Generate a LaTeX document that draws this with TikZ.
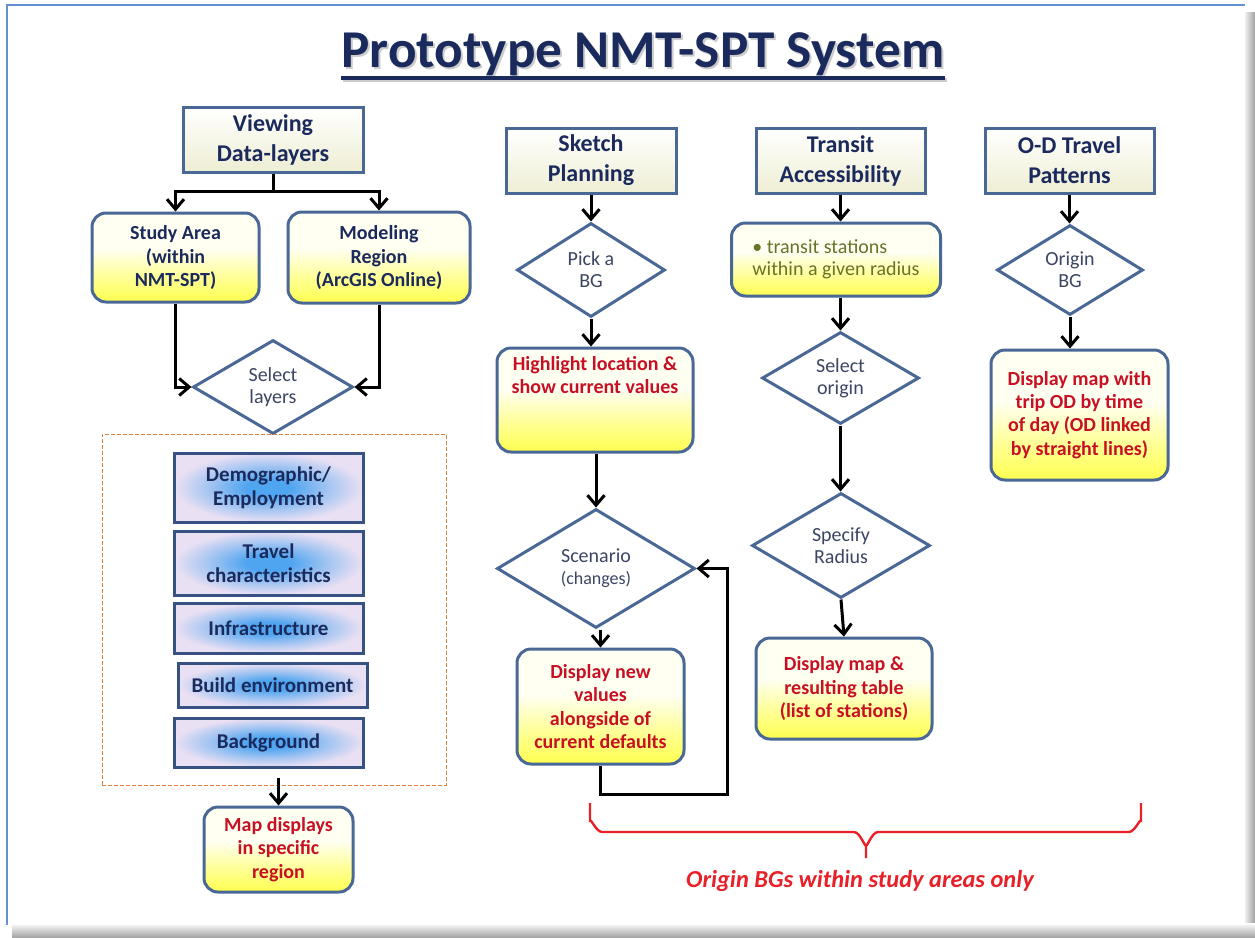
\documentclass[tikz,border=0pt]{standalone}
\usepackage{fontspec}
\setmainfont{Carlito}
\usetikzlibrary{arrows.meta,shapes.geometric,calc}
\definecolor{navy}{RGB}{27,42,92}
\definecolor{bord}{RGB}{74,104,150}
\definecolor{ldark}{RGB}{55,82,130}
\definecolor{redt}{RGB}{200,16,36}
\definecolor{olive}{RGB}{105,115,40}
\definecolor{dtext}{RGB}{60,70,100}
\definecolor{cream}{RGB}{238,238,212}
\definecolor{yelB}{RGB}{255,255,80}
\definecolor{yelW}{RGB}{255,255,242}
\definecolor{lblue}{RGB}{80,165,240}
\definecolor{lav}{RGB}{234,224,243}
\definecolor{frameblue}{RGB}{100,145,210}
\definecolor{bracered}{RGB}{232,32,40}
\pgfdeclareverticalshading{yelshade}{100bp}{color(0bp)=(yelB); color(25bp)=(yelB); color(38bp)=(yelB!60!yelW); color(55bp)=(yelW); color(75bp)=(yelW); color(100bp)=(yelW)}
\pgfdeclareradialshading{blueshade}{\pgfpoint{0bp}{0bp}}{color(0bp)=(lblue); color(6bp)=(lblue); color(16bp)=(lblue!45!lav); color(25bp)=(lav); color(50bp)=(lav)}
\tikzset{
  hdr/.style={draw=bord, line width=1.5pt, top color=white, bottom color=cream,
    font=\fontsize{12}{15}\selectfont\bfseries, text=navy, align=center,
    inner sep=0pt, minimum height=32.5pt},
  ybox/.style={draw=bord, line width=1.5pt, rounded corners=7pt, shading=yelshade,
    align=center, inner sep=0pt, font=\fontsize{10}{11.6}\selectfont\bfseries},
  layer/.style={draw=ldark, line width=1.5pt, shading=blueshade, align=center,
    inner sep=0pt, text=navy, font=\fontsize{10.5}{12}\selectfont\bfseries,
    minimum width=94.5pt},
  dec/.style={diamond, draw=bord, line width=1.5pt, fill=white, inner sep=0pt,
    font=\fontsize{10}{11}\selectfont, text=dtext, align=center},
  ln/.style={line width=1.5pt},
  arr/.style={line width=1.5pt, -{Straight Barb[length=5pt,width=8.5pt]}}
}
\begin{document}
\begin{tikzpicture}[x=0.5pt,y=-0.5pt]
\useasboundingbox (0,0) rectangle (1255,938);
% slide frame and shadow
\shade[left color=white, right color=gray!75] (1243,12) rectangle (1255,938);
\shade[top color=white, bottom color=gray!75] (12,923) rectangle (1255,938);
\fill[white] (7,5) rectangle (1245,925);
\draw[frameblue, line width=1pt] (7,925) -- (7,5) -- (1245,5);
% title
\node[anchor=base, inner sep=0pt, text=gray!40, font=\fontsize{26.6}{30}\selectfont\bfseries] (tshadow) at (645,69) {Prototype NMT-SPT System};
\node[anchor=base, inner sep=0pt, text=navy, font=\fontsize{26.6}{30}\selectfont\bfseries] (title) at (643,67) {Prototype NMT-SPT System};
\draw[gray!40, line width=2pt] ([yshift=-6.5pt,xshift=1pt]title.base west) -- ([yshift=-6.5pt,xshift=1pt]title.base east);
\draw[navy, line width=2pt] ([yshift=-5.5pt]title.base west) -- ([yshift=-5.5pt]title.base east);

% ---- left column
\node[hdr, minimum width=90pt] (view) at (273,139.5) {Viewing\\Data-layers};
\node[ybox, minimum width=83.5pt, minimum height=44.5pt, text=navy] (study) at (175.5,257.5) {Study Area\\(within\\NMT-SPT)};
\node[ybox, minimum width=91pt, minimum height=45.5pt, text=navy] (model) at (379,257.5) {Modeling\\Region\\(ArcGIS Online)};
\node[dec, minimum width=80pt, minimum height=47pt] (sel) at (273,387) {Select\\layers};
\node[draw={rgb,255:red,220;green,130;blue,60}, dash pattern=on 2pt off 1pt, line width=0.5pt, minimum width=172pt, minimum height=175.5pt, inner sep=0pt] (grp) at (274,609.5) {};
\node[layer, minimum height=34.5pt] (demo) at (268.5,487.5) {Demographic/\\Employment};
\node[layer, minimum height=32pt] (trav) at (268.5,563) {Travel\\characteristics};
\node[layer, minimum height=25pt] (infra) at (268.5,628) {Infrastructure};
\node[layer, minimum height=22pt] (build) at (272.5,685) {Build environment};
\node[layer, minimum height=24.5pt] (bgr) at (268.5,742.5) {Background};
\node[ybox, minimum width=74.5pt, minimum height=42.5pt, text=redt] (mapd) at (278.5,849.5) {Map displays\\in specific\\region};

\draw[ln] (view.south) -- ++(0,18) coordinate (vj);
\draw[arr] (vj) -| (study.north);
\draw[arr] (vj) -| (model.north);
\draw[arr] (study.south) |- (sel.west);
\draw[arr] (model.south) |- (sel.east);
\draw[arr] ([yshift=4pt]grp.south -| mapd.north) -- (mapd.north);

% ---- sketch planning column
\node[hdr, minimum width=85pt] (sketch) at (591,160.5) {Sketch\\Planning};
\node[dec, minimum width=74pt, minimum height=47pt] (pick) at (591,270) {Pick a\\BG};
\node[ybox, minimum width=98pt, minimum height=52pt, text=redt] (high) at (595,400) {\parbox[c][44pt][t]{96pt}{\centering Highlight location \&\\show current values}};
\node[dec, minimum width=99pt, minimum height=59.5pt] (scen) at (596,568.5) {Scenario\\{\fontsize{9}{11}\selectfont(changes)}};
\node[ybox, minimum width=83.5pt, minimum height=57.5pt, text=redt] (dnew) at (600.5,706.5) {Display new\\values\\alongside of\\current defaults};
\coordinate (loopc) at (727,794);

\draw[arr] (sketch.south) -- (pick.north);
\draw[arr] (pick.south) -- (pick.south |- high.north);
\draw[arr] (scen.north |- high.south) -- (scen.north);
\draw[arr] (scen.south -| dnew.north) -- (dnew.north);
\draw[arr] (dnew.south) |- (loopc) |- (scen.east);

% ---- transit column
\node[hdr, minimum width=84.5pt] (transit) at (840.5,160.5) {Transit\\Accessibility};
\node[ybox, minimum width=104.5pt, minimum height=36.5pt, text=olive, font=\fontsize{10}{11}\selectfont, align=left] (tstat) at (836,259.5) {• transit stations\\within a given radius};
\node[dec, minimum width=78.5pt, minimum height=46pt] (selo) at (840.5,378) {Select\\origin};
\node[dec, minimum width=89pt, minimum height=52.5pt] (spec) at (841,545.5) {Specify\\Radius};
\node[ybox, minimum width=88pt, minimum height=50.5pt, text=redt] (dmap) at (844,688.5) {Display map \&\\resulting table\\(list of stations)};

\draw[arr] (transit.south) -- (transit.south |- tstat.north);
\draw[arr] (selo.north |- tstat.south) -- (selo.north);
\draw[arr] (selo.south) -- (selo.south |- spec.north);
\draw[arr] (spec.south) -- (dmap.north);

% ---- O-D column
\node[hdr, minimum width=84.5pt] (od) at (1069.5,160.5) {O-D Travel\\Patterns};
\node[dec, minimum width=73pt, minimum height=45pt] (obg) at (1070,270) {Origin\\BG};
\node[ybox, minimum width=88.5pt, minimum height=65pt, text=redt] (oddisp) at (1079.5,415) {Display map with\\trip OD by time\\of day (OD linked\\by straight lines)};

\draw[arr] (od.south) -- (od.south |- obg.north);
\draw[arr] (obg.south) -- (obg.south |- oddisp.north);

% ---- brace and note
\draw[bracered, line width=1.2pt]
  (590,803) -- (590,822) to[out=90,in=180] (602,832) -- (854,832) to[out=0,in=-90] (866,844) -- (866,858);
\draw[bracered, line width=1.2pt]
  (1141,803) -- (1141,822) to[out=90,in=0] (1129,832) -- (878,832) to[out=180,in=-90] (866,844);
\node[text=bracered, font=\fontsize{12.2}{14}\selectfont\bfseries\itshape, inner sep=0pt] (note) at (860,881) {Origin BGs within study areas only};
\end{tikzpicture}
\end{document}
